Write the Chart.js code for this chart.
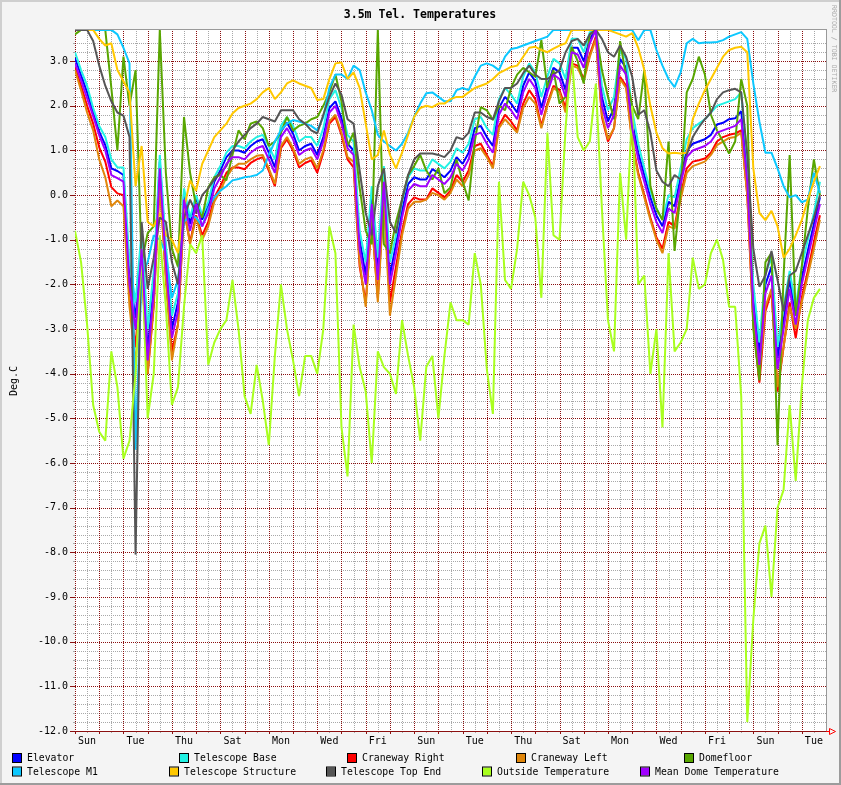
<!DOCTYPE html>
<html>
<head>
<meta charset="utf-8">
<title>3.5m Tel. Temperatures</title>
<script src="https://cdn.jsdelivr.net/npm/chart.js@4.4.1/dist/chart.umd.min.js"></script>
<style>
  html, body { margin: 0; padding: 0; background: #f4f4f4; }
  canvas { display: block; }
</style>
</head>
<body>
<canvas id="tempChart" width="841" height="785"></canvas>
<script>
// time axis: days since the first Sunday, 6 hour steps
const days = [0,0.25,0.5,0.75,1,1.25,1.5,1.75,2,2.25,2.5,2.75,3,3.25,3.5,3.75,
  4,4.25,4.5,4.75,5,5.25,5.5,5.75,6,6.25,6.5,6.75,7,7.25,7.5,7.75,
  8,8.25,8.5,8.75,9,9.25,9.5,9.75,10,10.25,10.5,10.75,11,11.25,11.5,11.75,
  12,12.25,12.5,12.75,13,13.25,13.5,13.75,14,14.25,14.5,14.75,15,15.25,15.5,15.75,
  16,16.25,16.5,16.75,17,17.25,17.5,17.75,18,18.25,18.5,18.75,19,19.25,19.5,19.75,
  20,20.25,20.5,20.75,21,21.25,21.5,21.75,22,22.25,22.5,22.75,23,23.25,23.5,23.75,
  24,24.25,24.5,24.75,25,25.25,25.5,25.75,26,26.25,26.5,26.75,27,27.25,27.5,27.75,
  28,28.25,28.5,28.75,29,29.25,29.5,29.75,30,30.25,30.5,30.75];

const dayNames = ['Sun', 'Mon', 'Tue', 'Wed', 'Thu', 'Fri', 'Sat'];

const elevator = [
  3.07, 2.68, 2.3, 1.85, 1.42, 1.12, 0.6, 0.54,
  0.45, -1.8, -2.75, -1.0, -3.5, -2.0, 0.75, -1.3,
  -3.0, -2.4, 0.05, -0.65, -0.05, -0.55, -0.25, 0.3,
  0.55, 0.85, 1.0, 1.0, 0.95, 1.1, 1.2, 1.25,
  0.95, 0.62, 1.42, 1.62, 1.38, 1.0, 1.1, 1.15,
  0.9, 1.3, 1.95, 2.1, 1.72, 1.15, 1.0, -1.0,
  -1.8, 0.0, -1.7, 0.45, -1.8, -1.1, -0.35, 0.25,
  0.4, 0.35, 0.35, 0.58, 0.5, 0.4, 0.55, 0.85,
  0.7, 0.95, 1.5, 1.55, 1.3, 1.1, 1.95, 2.2,
  2.05, 1.85, 2.45, 2.75, 2.55, 1.95, 2.45, 2.85,
  2.75, 2.35, 3.3, 3.3, 3.0, 3.5, 3.7, 2.2,
  1.65, 1.95, 3.05, 2.85, 1.65, 0.95, 0.45, -0.05,
  -0.45, -0.7, -0.15, -0.25, 0.4, 1.0, 1.15, 1.2,
  1.25, 1.35, 1.58, 1.62, 1.7, 1.72, 1.88, 0.5,
  -2.3, -3.55, -2.0, -1.6, -3.65, -2.8, -1.9, -2.7,
  -1.85, -1.25, -0.65, -0.05];

const telescopeBase = [
  3.2, 2.8, 2.45, 1.95, 1.55, 1.3, 0.8, 0.62,
  0.62, -1.5, -2.4, -0.8, -3.0, -1.7, 0.9, -1.1,
  -2.7, -2.2, 0.15, -0.5, 0.0, -0.45, -0.15, 0.4,
  0.65, 0.95, 1.1, 1.1, 1.05, 1.2, 1.3, 1.35,
  1.1, 0.8, 1.55, 1.75, 1.55, 1.2, 1.3, 1.3,
  1.1, 1.5, 2.15, 2.35, 1.95, 1.35, 1.2, -0.8,
  -1.5, 0.2, -1.4, 0.65, -1.5, -0.9, -0.15, 0.4,
  0.6, 0.55, 0.55, 0.8, 0.7, 0.6, 0.75, 1.05,
  0.95, 1.15, 1.7, 1.75, 1.5, 1.35, 2.15, 2.4,
  2.25, 2.05, 2.65, 2.95, 2.75, 2.2, 2.65, 3.05,
  2.95, 2.6, 3.5, 3.5, 3.2, 3.65, 3.7, 2.45,
  1.9, 2.2, 3.25, 3.05, 1.9, 1.15, 0.6, 0.1,
  -0.3, -0.55, 0.0, -0.05, 0.6, 1.25, 1.5, 1.6,
  1.7, 1.85, 2.0, 2.05, 2.1, 2.15, 2.3, 0.8,
  -2.0, -3.3, -1.75, -1.4, -3.4, -2.5, -1.7, -2.5,
  -1.6, -1.0, -0.4, 0.3];

const cranewayRight = [
  2.87, 2.45, 2.0, 1.6, 1.07, 0.75, 0.18, 0.04,
  0.0, -2.3, -3.4, -1.5, -4.0, -2.5, 0.35, -1.8,
  -3.5, -2.9, -0.35, -1.05, -0.45, -0.9, -0.6, -0.05,
  0.2, 0.5, 0.62, 0.62, 0.58, 0.72, 0.8, 0.85,
  0.55, 0.2, 1.05, 1.25, 1.0, 0.62, 0.72, 0.78,
  0.5, 0.95, 1.6, 1.75, 1.35, 0.8, 0.62, -1.6,
  -2.4, -0.55, -2.3, 0.0, -2.4, -1.6, -0.8, -0.2,
  -0.05, -0.1, -0.1, 0.15, 0.05, -0.05, 0.1, 0.45,
  0.3, 0.55, 1.1, 1.15, 0.9, 0.65, 1.55, 1.8,
  1.65, 1.45, 2.05, 2.35, 2.15, 1.55, 2.05, 2.45,
  2.35, 1.95, 2.95, 2.9, 2.6, 3.15, 3.55, 1.75,
  1.2, 1.5, 2.65, 2.45, 1.2, 0.5, 0.0, -0.5,
  -0.95, -1.2, -0.6, -0.7, 0.0, 0.6, 0.75, 0.78,
  0.82, 0.95, 1.2, 1.3, 1.35, 1.38, 1.45, 0.0,
  -2.9, -4.2, -2.6, -2.15, -4.4, -3.4, -2.4, -3.2,
  -2.3, -1.7, -1.05, -0.45];

const cranewayLeft = [
  2.8, 2.35, 1.85, 1.45, 0.8, 0.4, -0.25, -0.12,
  -0.25, -2.5, -3.8, -1.5, -4.0, -2.4, 0.3, -1.9,
  -3.7, -2.9, -0.3, -1.1, -0.5, -1.0, -0.7, -0.15,
  0.1, 0.4, 0.6, 0.7, 0.7, 0.8, 0.88, 0.9,
  0.6, 0.25, 1.1, 1.3, 1.05, 0.7, 0.8, 0.85,
  0.6, 1.0, 1.65, 1.8, 1.4, 0.85, 0.75, -1.5,
  -2.5, -0.5, -2.4, -0.1, -2.7, -1.8, -0.9, -0.3,
  -0.15, -0.15, -0.1, 0.05, 0.0, -0.1, 0.05, 0.35,
  0.2, 0.45, 1.0, 1.05, 0.85, 0.6, 1.5, 1.7,
  1.55, 1.4, 1.95, 2.2, 2.05, 1.5, 2.0, 2.4,
  2.3, 1.85, 2.9, 2.85, 2.55, 3.1, 3.5, 1.8,
  1.25, 1.5, 2.6, 2.4, 1.15, 0.45, -0.05, -0.55,
  -1.0, -1.3, -0.7, -0.75, -0.1, 0.5, 0.65, 0.7,
  0.75, 0.9, 1.12, 1.2, 1.28, 1.3, 1.4, 0.0,
  -2.8, -4.0, -2.5, -2.1, -4.3, -3.4, -2.5, -3.0,
  -2.4, -1.8, -1.2, -0.55];

const domefloor = [
  3.6, 3.7, 3.7, 3.7, 3.7, 3.7, 2.4, 1.0,
  3.1, 2.0, 2.8, -1.5, -0.85, -0.7, 3.7, 0.5,
  -1.2, -1.6, 1.75, 0.5, -0.25, -0.5, 0.17, 0.4,
  0.45, 0.33, 0.9, 1.45, 1.25, 1.6, 1.65, 1.5,
  1.1, 1.2, 1.4, 1.75, 1.45, 1.55, 1.6, 1.7,
  1.75, 2.0, 2.3, 2.7, 2.1, 1.1, 1.4, 0.17,
  -0.8, -1.1, 3.7, -1.1, -1.3, -0.6, -0.1, 0.45,
  0.65, 0.9, 0.55, 0.35, 0.6, 0.04, 0.17, 0.8,
  0.3, -0.12, 1.2, 1.97, 1.9, 1.68, 2.0, 1.9,
  2.4, 2.7, 2.85, 2.75, 2.65, 3.47, 2.4, 2.8,
  2.05, 2.2, 3.32, 3.0, 2.5, 3.6, 3.7, 2.8,
  2.2, 1.7, 3.45, 2.65, 2.0, 1.7, 2.8, 0.2,
  -0.3, -0.56, 1.2, -1.25, 0.1, 2.3, 2.6, 3.1,
  2.7, 1.8, 1.45, 1.2, 0.93, 1.2, 2.6, 2.0,
  -3.0, -4.15, -1.5, -1.3, -5.6, -1.8, 0.9, -2.7,
  -1.6, -0.3, 0.8, 0.0];

const telescopeM1 = [
  3.7, 3.7, 3.7, 3.7, 3.7, 3.7, 3.7, 3.6,
  3.3, 2.95, -5.7, -1.8, -1.5, -0.9, -1.0, -1.3,
  -2.3, -1.9, -0.6, -0.45, -0.5, -0.7, -0.3, -0.05,
  0.1, 0.2, 0.33, 0.36, 0.4, 0.42, 0.45, 0.55,
  0.9, 1.2, 1.45, 1.6, 1.68, 1.65, 1.6, 1.55,
  1.45, 1.75, 2.4, 2.7, 2.7, 2.6, 2.9, 2.8,
  2.3, 1.9, 1.35, 1.2, 1.1, 1.0, 1.15, 1.4,
  1.75, 2.05, 2.28, 2.3, 2.2, 2.1, 2.1, 2.35,
  2.4, 2.35, 2.65, 2.9, 2.95, 2.9, 2.8, 3.1,
  3.27, 3.3, 3.35, 3.4, 3.45, 3.5, 3.55, 3.7,
  3.7, 3.7, 3.7, 3.7, 3.7, 3.7, 3.7, 3.7,
  3.7, 3.7, 3.7, 3.7, 3.7, 3.47, 3.7, 3.7,
  3.25, 2.9, 2.6, 2.42, 2.75, 3.4, 3.5, 3.4,
  3.42, 3.42, 3.43, 3.47, 3.55, 3.6, 3.65, 3.5,
  2.5, 1.65, 0.95, 0.95, 0.6, 0.2, -0.05, 0.0,
  -0.16, -0.1, 0.5, 0.05];

const telescopeStructure = [
  3.7, 3.7, 3.7, 3.7, 3.5, 3.35, 3.4, 2.8,
  2.55, 2.3, 0.2, 1.1, -0.6, -0.7, -0.4, -0.9,
  -1.0, -1.3, -0.3, 0.33, 0.1, 0.7, 1.0, 1.3,
  1.45, 1.6, 1.83, 1.95, 2.0, 2.05, 2.15, 2.3,
  2.4, 2.15, 2.3, 2.5, 2.57, 2.5, 2.45, 2.4,
  2.13, 2.15, 2.6, 2.95, 2.97, 2.6, 2.75, 2.4,
  1.6, 0.8, 0.9, 1.45, 0.9, 0.6, 0.95, 1.35,
  1.75, 1.95, 2.0, 1.97, 2.05, 2.05, 2.15, 2.2,
  2.2, 2.3, 2.4, 2.45, 2.5, 2.6, 2.73, 2.8,
  2.87, 2.9, 3.1, 3.3, 3.32, 3.25, 3.2, 3.28,
  3.35, 3.4, 3.7, 3.7, 3.7, 3.7, 3.7, 3.7,
  3.7, 3.65, 3.6, 3.55, 3.63, 3.3, 2.8, 2.0,
  1.4, 1.05, 0.93, 0.95, 0.93, 0.95, 1.7, 2.05,
  2.35, 2.6, 2.85, 3.1, 3.25, 3.3, 3.32, 3.2,
  0.6, -0.4, -0.56, -0.35, -0.7, -1.4, -1.2, -0.9,
  -0.56, -0.1, 0.3, 0.65];

const telescopeTopEnd = [
  3.7, 3.7, 3.7, 3.45, 2.9, 2.45, 2.1, 1.85,
  1.78, 1.3, -8.05, -0.6, -2.1, -1.4, -0.5, -0.6,
  -1.5, -2.0, -0.5, -0.1, -0.4, 0.0, 0.15, 0.35,
  0.5, 0.65, 1.0, 1.2, 1.35, 1.5, 1.6, 1.75,
  1.7, 1.65, 1.9, 1.9, 1.9, 1.7, 1.6, 1.45,
  1.38, 1.8, 2.2, 2.5, 2.25, 1.7, 1.6, 0.55,
  -0.4, -0.9, 0.2, 0.6, -0.6, -0.85, -0.1, 0.45,
  0.8, 0.93, 0.93, 0.93, 0.9, 0.85, 1.0, 1.3,
  1.25, 1.4, 1.85, 1.85, 1.75, 1.7, 2.1, 2.4,
  2.4, 2.5, 2.73, 2.9, 2.7, 2.6, 2.6, 2.7,
  2.8, 3.2, 3.45, 3.5, 3.35, 3.6, 3.7, 3.5,
  3.2, 3.1, 3.35, 3.1, 2.65, 1.8, 1.9, 1.4,
  0.55, 0.3, 0.2, 0.45, 0.35, 0.9, 1.3, 1.52,
  1.7, 1.85, 2.15, 2.3, 2.35, 2.38, 2.3, 0.9,
  -1.2, -2.05, -1.8, -1.25, -1.9, -2.6, -1.8, -1.7,
  -1.3, -0.9, -0.5, 0.0];

const outsideTemp = [
  -0.8, -1.5, -2.9, -4.7, -5.3, -5.5, -3.5, -4.3,
  -5.9, -5.5, -4.0, -1.2, -5.0, -4.0, -0.9, -2.5,
  -4.7, -4.3, -2.5, -1.1, -1.3, -0.9, -3.8, -3.3,
  -3.0, -2.8, -1.9, -3.0, -4.5, -4.9, -3.8, -4.6,
  -5.6, -3.6, -2.0, -3.0, -3.7, -4.5, -3.6, -3.6,
  -4.0, -3.0, -0.7, -1.3, -5.2, -6.3, -2.9, -3.85,
  -4.4, -6.0, -3.5, -3.85, -4.0, -4.45, -2.8, -3.6,
  -4.3, -5.5, -3.85, -3.6, -5.0, -3.6, -2.4, -2.8,
  -2.8, -2.9, -1.3, -2.0, -3.9, -4.9, 0.3, -1.9,
  -2.1, -1.2, 0.3, 0.0, -0.5, -2.3, 1.4, -0.9,
  -1.0, 1.5, 3.2, 1.3, 1.0, 1.2, 2.5, -0.3,
  -2.8, -3.5, 0.5, -1.0, 2.0, -2.0, -1.8, -4.0,
  -3.0, -5.2, -1.3, -3.5, -3.3, -3.0, -1.4, -2.1,
  -2.0, -1.3, -1.0, -1.45, -2.5, -2.5, -4.5, -11.8,
  -9.5, -7.8, -7.4, -9.0, -7.0, -6.6, -4.7, -6.4,
  -4.3, -2.8, -2.3, -2.1];

const meanDome = [
  2.95, 2.57, 2.17, 1.77, 1.34, 1.0, 0.45, 0.38,
  0.3, -2.0, -3.0, -1.2, -3.7, -2.2, 0.6, -1.5,
  -3.2, -2.6, -0.1, -0.8, -0.2, -0.7, -0.4, 0.15,
  0.4, 0.7, 0.85, 0.85, 0.8, 0.95, 1.05, 1.1,
  0.8, 0.5, 1.3, 1.5, 1.25, 0.9, 1.0, 1.05,
  0.8, 1.2, 1.85, 2.0, 1.6, 1.05, 0.9, -1.2,
  -2.0, -0.2, -1.9, 0.3, -2.0, -1.3, -0.5, 0.1,
  0.25, 0.2, 0.2, 0.45, 0.35, 0.25, 0.4, 0.7,
  0.55, 0.8, 1.35, 1.4, 1.15, 0.95, 1.8, 2.05,
  1.9, 1.7, 2.3, 2.6, 2.4, 1.8, 2.3, 2.7,
  2.6, 2.2, 3.2, 3.15, 2.85, 3.4, 3.7, 2.0,
  1.5, 1.8, 2.9, 2.7, 1.5, 0.8, 0.3, -0.2,
  -0.6, -0.85, -0.3, -0.4, 0.25, 0.85, 1.0, 1.05,
  1.1, 1.2, 1.4, 1.45, 1.5, 1.55, 1.7, 0.3,
  -2.5, -3.8, -2.2, -1.8, -3.9, -3.0, -2.1, -2.9,
  -2.0, -1.4, -0.8, -0.2];

// legend order as in the rrd graph
const seriesNames = ['Elevator', 'Telescope Base', 'Craneway Right', 'Craneway Left', 'Domefloor',
  'Telescope M1', 'Telescope Structure', 'Telescope Top End', 'Outside Temperature', 'Mean Dome Temperature'];
const seriesValues = [elevator, telescopeBase, cranewayRight, cranewayLeft, domefloor,
  telescopeM1, telescopeStructure, telescopeTopEnd, outsideTemp, meanDome];
const seriesColors = ['#0000ff', '#22f2e4', '#ff0000', '#e0860a', '#58a600',
  '#0cc8ff', '#ffc800', '#555555', '#a8ff1e', '#a000ff'];

// legend box positions (x, row)
const legendSlots = [[13, 0], [180, 0], [348, 0], [517, 0], [685, 0],
  [13, 1], [170, 1], [327, 1], [483, 1], [641, 1]];

const MONO = '"DejaVu Sans Mono", "Liberation Mono", monospace';
const MAJOR = '#8b1010';
const MINOR = '#a8a8a8';

function isWhole(v) {
  return Math.abs(v - Math.round(v)) < 1e-6;
}

// rrd style dotted grid, drawn from the chart's own scales
const rrdGrid = {
  id: 'rrdGrid',
  beforeDatasetsDraw(chart) {
    const {ctx, chartArea: a, scales: {x, y}} = chart;
    const top = Math.round(a.top), bottom = Math.round(a.bottom);
    const left = Math.round(a.left), right = Math.round(a.right);
    ctx.save();
    // one pixel dots, every second pixel
    const dotsH = (py, color) => {
      ctx.fillStyle = color;
      for (let px = left; px < right; px += 2) ctx.fillRect(px, py, 1, 1);
    };
    const dotsV = (px, color) => {
      ctx.fillStyle = color;
      for (let py = top; py < bottom; py += 2) ctx.fillRect(px, py, 1, 1);
    };
    [false, true].forEach(major => {
      const color = major ? MAJOR : MINOR;
      y.ticks.forEach(t => {
        if (isWhole(t.value) !== major || t.value >= y.max || t.value <= y.min) return;
        dotsH(Math.round(y.getPixelForValue(t.value)), color);
      });
      x.ticks.forEach(t => {
        if (isWhole(t.value) !== major || t.value >= x.max) return;
        dotsV(Math.round(x.getPixelForValue(t.value)), color);
      });
    });

    // small tick marks outside the plot
    y.ticks.forEach(t => {
      if (t.value >= y.max) return;
      const major = isWhole(t.value);
      const py = Math.round(y.getPixelForValue(t.value));
      ctx.fillStyle = major ? MAJOR : MINOR;
      if (major) ctx.fillRect(left - 5, py, 5, 1);
      else ctx.fillRect(left - 2, py, 2, 1);
    });
    x.ticks.forEach(t => {
      if (t.value >= x.max) return;
      const major = isWhole(t.value);
      const px = Math.round(x.getPixelForValue(t.value));
      ctx.fillStyle = major ? MAJOR : MINOR;
      ctx.fillRect(px, bottom, 1, major ? 3 : 2);
    });
    ctx.restore();
  }
};

const rrdFrame = {
  id: 'rrdFrame',
  beforeDraw(chart) {
    const {ctx, width, height, chartArea: a} = chart;
    ctx.save();
    ctx.fillStyle = '#f4f4f4';
    ctx.fillRect(0, 0, width, height);
    ctx.fillStyle = '#cfcfcf';
    ctx.fillRect(0, 0, width, 2);
    ctx.fillRect(0, 0, 2, height);
    ctx.fillStyle = '#9c9c9c';
    ctx.fillRect(0, height - 2, width, 2);
    ctx.fillRect(width - 2, 0, 2, height);
    ctx.fillStyle = '#ffffff';
    ctx.fillRect(a.left, a.top, a.right - a.left, a.bottom - a.top);
    ctx.restore();
  },
  afterDraw(chart) {
    const {ctx, chartArea: a} = chart;
    const top = Math.round(a.top), bottom = Math.round(a.bottom);
    const left = Math.round(a.left), right = Math.round(a.right);
    ctx.save();

    // top and right edge of the plot
    ctx.fillStyle = '#999999';
    ctx.fillRect(left, top, right - left + 1, 1);
    ctx.fillRect(right, top, 1, bottom - top);

    // x axis with arrow
    ctx.fillStyle = MAJOR;
    ctx.fillRect(left - 5, bottom, right - left + 5, 1);
    ctx.fillStyle = '#ff0000';
    ctx.fillRect(right, bottom, 4, 1);
    ctx.strokeStyle = '#ff0000';
    ctx.lineWidth = 1;
    ctx.beginPath();
    ctx.moveTo(right + 3.5, bottom - 2.5);
    ctx.lineTo(right + 9.5, bottom + 0.5);
    ctx.lineTo(right + 3.5, bottom + 3.5);
    ctx.closePath();
    ctx.stroke();

    // title
    ctx.fillStyle = '#000000';
    ctx.font = 'bold 11.5px ' + MONO;
    ctx.textAlign = 'center';
    ctx.textBaseline = 'middle';
    ctx.fillText('3.5m Tel. Temperatures', 420, 15);

    // y axis title
    ctx.font = '10px ' + MONO;
    ctx.save();
    ctx.translate(14, 381);
    ctx.rotate(-Math.PI / 2);
    ctx.fillText('Deg.C', 0, 0);
    ctx.restore();

    // rrdtool credit
    ctx.save();
    ctx.fillStyle = '#aaaaaa';
    ctx.font = '6.6px ' + MONO;
    ctx.translate(834, 5);
    ctx.rotate(Math.PI / 2);
    ctx.textAlign = 'left';
    ctx.fillText('RRDTOOL / TOBI OETIKER', 0, 0);
    ctx.restore();

    // legend
    ctx.font = '9.8px ' + MONO;
    ctx.textAlign = 'left';
    ctx.textBaseline = 'middle';
    seriesNames.forEach((name, i) => {
      const [lx, row] = legendSlots[i];
      const ly = 754 + row * 13.5;
      ctx.fillStyle = seriesColors[i];
      ctx.fillRect(lx, ly, 8, 8);
      ctx.strokeStyle = '#000000';
      ctx.lineWidth = 1;
      ctx.strokeRect(lx - 0.5, ly - 0.5, 9, 9);
      ctx.fillStyle = '#000000';
      ctx.fillText(name, lx + 14, ly + 4.5);
    });

    ctx.restore();
  }
};

const datasets = seriesNames.map((name, i) => ({
  label: name,
  data: days.map((d, j) => ({x: d, y: seriesValues[i][j]})),
  borderColor: seriesColors[i],
  backgroundColor: seriesColors[i],
  borderWidth: 2,
  pointRadius: 0,
  tension: 0,
  fill: false,
  borderJoinStyle: 'bevel',
  order: seriesNames.length - 1 - i
}));

new Chart(document.getElementById('tempChart').getContext('2d'), {
  type: 'line',
  data: { datasets: datasets },
  options: {
    responsive: false,
    animation: false,
    devicePixelRatio: 1,
    events: [],
    layout: { padding: { left: 0, top: 29, right: 15, bottom: 0 } },
    plugins: {
      legend: { display: false },
      title: { display: false },
      tooltip: { enabled: false }
    },
    scales: {
      x: {
        type: 'linear',
        min: 0,
        max: 31,
        afterFit: s => { s.height = 54; },
        grid: { display: false, drawTicks: false },
        border: { display: false },
        ticks: {
          stepSize: 0.5,
          autoSkip: false,
          maxRotation: 0,
          minRotation: 0,
          padding: 4,
          color: '#000000',
          font: { family: MONO, size: 10 },
          callback: v => {
            const d = Math.floor(v);
            if (Math.abs(v - d - 0.5) < 1e-6 && d % 2 === 0) return dayNames[d % 7];
            return '';
          }
        }
      },
      y: {
        type: 'linear',
        min: -12,
        max: 3.72,
        afterFit: s => { s.width = 75; },
        grid: { display: false, drawTicks: false },
        border: { display: false },
        ticks: {
          stepSize: 0.2,
          autoSkip: false,
          padding: 7,
          color: '#000000',
          font: { family: MONO, size: 10 },
          callback: v => isWhole(v) && v < 3.7 ? v.toFixed(1) : ''
        }
      }
    }
  },
  plugins: [rrdFrame, rrdGrid]
});
</script>
</body>
</html>
